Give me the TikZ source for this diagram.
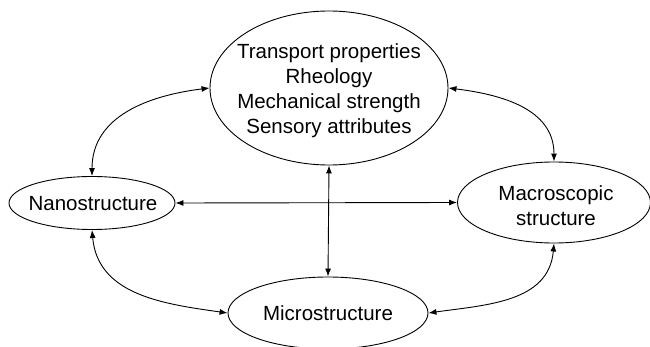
\documentclass[tikz,border=0pt]{standalone}
\usepackage{fontspec}
\setmainfont{Liberation Sans}
\usetikzlibrary{shapes.geometric,arrows.meta}
\begin{document}
\begin{tikzpicture}[x=1pt,y=1pt,
  ell/.style={draw,ellipse,inner sep=0pt,line width=0.9pt},
  txt/.style={align=center,inner sep=0pt,font=\fontsize{20.5}{25}\selectfont},
  link/.style={{Latex[length=8pt,width=6pt]}-{Latex[length=8pt,width=6pt]},line width=0.9pt}]
\useasboundingbox (0,0) rectangle (650,346);
% ellipses (y measured upward: y = 346 - pixel row)
\node[ell,minimum width=238pt,minimum height=154pt] (top) at (329,258) {};
\node[ell,minimum width=166pt,minimum height=53pt] (nano) at (92,143) {};
\node[ell,minimum width=193pt,minimum height=81pt] (macro) at (554,143.5) {};
\node[ell,minimum width=200pt,minimum height=72pt] (micro) at (328,33) {};
% texts
\node[txt] (toptxt) at (329,255) {Transport properties\\Rheology\\Mechanical strength\\Sensory attributes};
\node[txt] (nanotxt) at (93,142.5) {Nanostructure};
\node[txt] (macrotxt) at (556,140.5) {Macroscopic\\structure};
\node[txt] (microtxt) at (328,33) {Microstructure};
% connectors
\draw[link] (top.west) to[out=187,in=90,looseness=1.05] (nano.north);
\draw[link] (top.east) to[out=-7,in=90,looseness=1.05] (macro.north);
\draw[link] (nano.south) to[out=-85,in=172,looseness=1.05] (micro.west);
\draw[link] (micro.east) to[out=8,in=-95,looseness=1.05] (macro.south);
\draw[link] (nano.east) -- (macro.west);
\draw[link] (top.south) -- (micro.north);
\end{tikzpicture}
\end{document}
